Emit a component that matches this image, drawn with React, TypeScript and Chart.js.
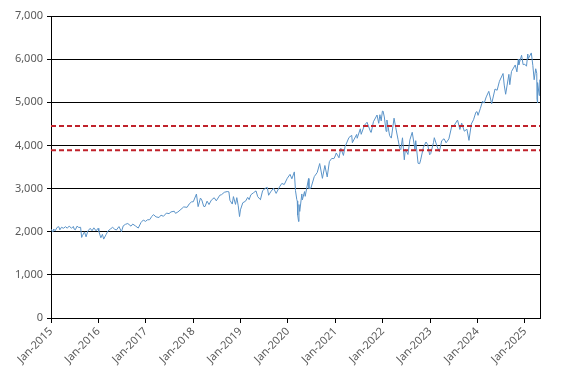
import React, { useEffect, useRef } from "react";
import { Chart, registerables } from "chart.js";

Chart.register(...registerables);

// S&P 500 closes (approximate)
const obsDates: string[] = [
  "2015-01-02","2015-01-15","2015-01-22","2015-02-02","2015-02-17","2015-03-02","2015-03-10","2015-03-23","2015-04-06","2015-04-24","2015-05-06","2015-05-21","2015-06-08","2015-06-22","2015-06-29","2015-07-08","2015-07-20","2015-08-03","2015-08-17","2015-08-25","2015-09-01","2015-09-16","2015-09-28","2015-10-12","2015-10-30","2015-11-13","2015-11-27","2015-12-14","2015-12-29",
  "2016-01-04","2016-01-20","2016-02-01","2016-02-11","2016-02-29","2016-03-15","2016-04-04","2016-04-20","2016-05-06","2016-05-19","2016-06-08","2016-06-27","2016-07-11","2016-07-29","2016-08-15","2016-09-09","2016-09-22","2016-10-14","2016-11-04","2016-11-25","2016-12-13","2016-12-30",
  "2017-01-13","2017-01-31","2017-02-15","2017-03-01","2017-03-21","2017-04-13","2017-04-28","2017-05-17","2017-06-09","2017-06-29","2017-07-14","2017-08-08","2017-08-18","2017-09-05","2017-09-29","2017-10-20","2017-11-15","2017-12-01","2017-12-18",
  "2018-01-02","2018-01-26","2018-02-08","2018-02-26","2018-03-08","2018-03-23","2018-04-02","2018-04-18","2018-05-03","2018-05-21","2018-06-12","2018-06-28","2018-07-25","2018-08-07","2018-08-29","2018-09-20","2018-10-03","2018-10-11","2018-10-29","2018-11-07","2018-11-23","2018-12-03","2018-12-14","2018-12-24","2018-12-31",
  "2019-01-18","2019-02-08","2019-02-25","2019-03-08","2019-03-21","2019-04-12","2019-04-30","2019-05-13","2019-05-31","2019-06-03","2019-06-20","2019-07-15","2019-07-26","2019-08-05","2019-08-21","2019-09-12","2019-10-02","2019-10-28","2019-11-15","2019-12-03","2019-12-27",
  "2020-01-17","2020-01-31","2020-02-19","2020-02-28","2020-03-09","2020-03-13","2020-03-16","2020-03-23","2020-03-26","2020-04-01","2020-04-17","2020-04-21","2020-05-08","2020-05-13","2020-06-08","2020-06-11","2020-06-26","2020-07-22","2020-08-14","2020-09-02","2020-09-23","2020-10-12","2020-10-30","2020-11-16","2020-12-04","2020-12-21","2020-12-31",
  "2021-01-08","2021-01-29","2021-02-12","2021-03-04","2021-03-17","2021-04-16","2021-05-07","2021-05-12","2021-06-14","2021-06-18","2021-07-12","2021-07-19","2021-08-13","2021-09-02","2021-09-30","2021-10-04","2021-10-21","2021-11-18","2021-12-01","2021-12-10","2021-12-20","2021-12-29",
  "2022-01-03","2022-01-13","2022-01-27","2022-02-02","2022-02-23","2022-03-08","2022-03-29","2022-04-11","2022-04-29","2022-05-12","2022-05-20","2022-06-02","2022-06-16","2022-06-24","2022-07-14","2022-07-29","2022-08-16","2022-09-06","2022-09-12","2022-09-30","2022-10-12","2022-10-20","2022-11-10","2022-11-30","2022-12-13","2022-12-28",
  "2023-01-05","2023-01-27","2023-02-02","2023-02-24","2023-03-13","2023-03-31","2023-04-18","2023-05-04","2023-05-25","2023-06-15","2023-07-03","2023-07-31","2023-08-18","2023-09-01","2023-09-21","2023-10-11","2023-10-27","2023-11-14","2023-12-01","2023-12-19","2023-12-28",
  "2024-01-05","2024-01-22","2024-02-09","2024-02-21","2024-03-08","2024-03-28","2024-04-19","2024-05-15","2024-05-31","2024-06-18","2024-07-16","2024-07-25","2024-08-05","2024-08-30","2024-09-06","2024-09-19","2024-10-18","2024-10-31","2024-11-11","2024-11-15","2024-12-06","2024-12-18","2024-12-31",
  "2025-01-13","2025-01-23","2025-01-27","2025-02-19","2025-03-03","2025-03-13","2025-03-25","2025-04-02","2025-04-04","2025-04-08","2025-04-09","2025-04-21","2025-04-25"
];

const spxClose: number[] = [
  2058,1992,2063,2020,2100,2117,2044,2104,2080,2117,2080,2131,2080,2122,2057,2046,2128,2098,2102,1867,1914,1996,1881,2017,2079,2023,2090,2021,2078,
  2012,1859,1940,1829,1932,2016,2066,2102,2057,2040,2119,2000,2137,2173,2190,2128,2177,2132,2085,2213,2271,2239,
  2275,2279,2349,2396,2344,2329,2384,2357,2432,2419,2459,2475,2426,2457,2519,2575,2565,2642,2690,
  2695,2873,2581,2780,2738,2588,2582,2708,2630,2733,2787,2716,2846,2858,2914,2931,2925,2728,2641,2814,2633,2790,2600,2351,2507,
  2671,2707,2796,2743,2855,2907,2946,2812,2752,2744,2954,3014,3026,2845,2925,3009,2888,3040,3120,3093,3240,
  3330,3226,3386,2954,2747,2711,2386,2237,2630,2470,2875,2737,2930,2820,3232,3002,3009,3276,3373,3580,3237,3535,3270,3627,3699,3694,3756,
  3825,3714,3934,3768,3974,4185,4233,4063,4255,4166,4385,4258,4468,4537,4308,4300,4549,4705,4513,4712,4568,4793,
  4797,4660,4326,4589,4225,4170,4632,4413,4132,3930,3901,4177,3667,3912,3790,4130,4305,3908,4110,3586,3577,3665,3956,4080,4019,3783,
  3808,4070,4179,3970,3855,4109,4155,4061,4151,4426,4455,4589,4370,4516,4330,4376,4117,4496,4595,4768,4783,
  4697,4850,5027,4981,5124,5254,4967,5308,5278,5487,5667,5399,5186,5648,5408,5713,5865,5705,6001,5870,6090,5872,5882,
  5836,6119,6012,6144,5850,5522,5777,5671,5074,4983,5457,5158,5525
];

const upperLevel: number[] = [4450, 4450];
const lowerLevel: number[] = [3890, 3890];
const levelDates: string[] = ["2015-01-01", "2025-04-27"];

const yearTicks: number[] = [2015, 2016, 2017, 2018, 2019, 2020, 2021, 2022, 2023, 2024, 2025];

function toYearFrac(d: string): number {
  const [y, m, day] = d.split("-").map(Number);
  const start = Date.UTC(y, 0, 1);
  const end = Date.UTC(y + 1, 0, 1);
  const t = Date.UTC(y, m - 1, day);
  return y + (t - start) / (end - start);
}

const X_MIN = toYearFrac(levelDates[0]);
const X_MAX = toYearFrac(levelDates[1]);

const rightBorder = {
  id: "rightBorder",
  afterDraw(chart: any) {
    const { ctx, chartArea } = chart;
    ctx.save();
    ctx.strokeStyle = "#000";
    ctx.lineWidth = 1;
    ctx.beginPath();
    const x = Math.round(chartArea.right) + 0.5;
    ctx.moveTo(x, chartArea.top);
    ctx.lineTo(x, chartArea.bottom);
    ctx.stroke();
    ctx.restore();
  },
};

export default function App() {
  const ref = useRef<HTMLCanvasElement | null>(null);
  useEffect(() => {
    document.body.style.margin = "0";
    const canvas = ref.current;
    if (!canvas) return;
    const series = obsDates.map((d, i) => ({ x: toYearFrac(d), y: spxClose[i] }));
    const up = levelDates.map((d, i) => ({ x: toYearFrac(d), y: upperLevel[i] }));
    const lo = levelDates.map((d, i) => ({ x: toYearFrac(d), y: lowerLevel[i] }));
    const font = { family: "'Noto Sans', 'Open Sans', sans-serif", size: 11 };
    const chart = new Chart(canvas, {
      type: "line",
      data: {
        datasets: [
          {
            label: "Upper",
            data: up,
            borderColor: "#C0222B",
            borderWidth: 2,
            borderDash: [5, 3],
            pointRadius: 0,
            fill: false,
          },
          {
            label: "Lower",
            data: lo,
            borderColor: "#C0222B",
            borderWidth: 2,
            borderDash: [5, 3],
            pointRadius: 0,
            fill: false,
          },
          {
            label: "S&P 500",
            data: series,
            borderColor: "#5A93C8",
            borderWidth: 1,
            pointRadius: 0,
            tension: 0,
            fill: false,
          },
        ],
      },
      options: {
        responsive: false,
        animation: false,
        layout: { padding: { top: 16, right: 27, left: 0, bottom: 0 } },
        plugins: { legend: { display: false }, tooltip: { enabled: false } },
        scales: {
          x: {
            type: "linear",
            min: X_MIN,
            max: X_MAX,
            afterBuildTicks: (scale: any) => {
              scale.ticks = yearTicks.map((v) => ({ value: v }));
            },
            afterFit: (scale: any) => {
              scale.height = 64;
            },
            ticks: {
              autoSkip: false,
              maxRotation: 45,
              minRotation: 45,
              color: "#595959",
              font,
              padding: 2,
              callback: (v: any) => "Jan-" + v,
            },
            grid: {
              display: true,
              drawOnChartArea: false,
              drawTicks: true,
              tickLength: 5,
              color: "#000",
            },
            border: { display: true, color: "#000", width: 1 },
          },
          y: {
            min: 0,
            max: 7000,
            afterFit: (scale: any) => {
              scale.width = 51;
            },
            ticks: {
              stepSize: 1000,
              color: "#595959",
              font,
              padding: 4,
              callback: (v: any) => Number(v).toLocaleString("en-US"),
            },
            grid: {
              color: "#000",
              lineWidth: 1,
              tickLength: 4,
            },
            border: { display: true, color: "#000", width: 1 },
          },
        },
      },
      plugins: [rightBorder],
    });
    return () => chart.destroy();
  }, []);
  return (
    <div style={{ width: 567, height: 382 }}>
      <canvas ref={ref} width={567} height={382} style={{ display: "block" }} />
    </div>
  );
}
